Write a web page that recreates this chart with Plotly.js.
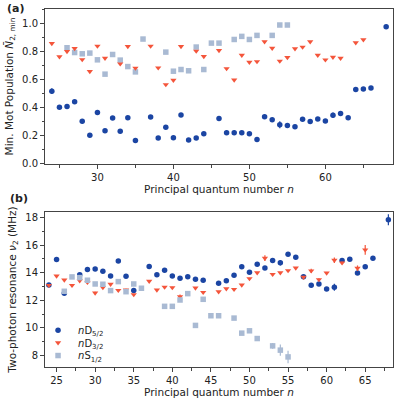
<!DOCTYPE html>
<html>
<head>
<meta charset="utf-8">
<script src="https://cdn.plot.ly/plotly-3.0.1.min.js"></script>
<style>
  html, body { margin: 0; padding: 0; background: #fff; }
  #chart { width: 399px; height: 399px; }
</style>
</head>
<body>
<div id="chart"></div>
<script>
// Panel (a): minimum Mot population vs n
const popD52N = [24, 25, 26, 27, 28, 29, 30, 31, 32, 33, 34, 35, 37, 38, 39, 40, 41, 42, 43, 44, 46, 47, 48, 49, 50, 51, 52, 53, 54, 55, 56, 57, 58, 59, 60, 61, 62, 63, 64, 65, 66, 68];
const popD52 = [0.515, 0.40, 0.405, 0.44, 0.30, 0.20, 0.362, 0.233, 0.324, 0.229, 0.326, 0.164, 0.331, 0.181, 0.257, 0.183, 0.345, 0.167, 0.181, 0.212, 0.321, 0.219, 0.219, 0.219, 0.212, 0.171, 0.333, 0.312, 0.276, 0.271, 0.262, 0.314, 0.298, 0.317, 0.302, 0.343, 0.355, 0.326, 0.526, 0.531, 0.538, 0.974];
const popD52Err = [0.02, 0.005, 0.005, 0.005, 0.015, 0.005, 0.005, 0.005, 0.005, 0.005, 0.005, 0.005, 0.005, 0.005, 0.012, 0.005, 0.005, 0.005, 0.005, 0.005, 0.005, 0.015, 0.015, 0.008, 0.005, 0.005, 0.005, 0.005, 0.025, 0.005, 0.005, 0.005, 0.01, 0.01, 0.005, 0.02, 0.01, 0.005, 0.005, 0.005, 0.005, 0.005];

const popD32N = [24, 25, 26, 27, 28, 29, 30, 31, 33, 34, 35, 37, 38, 39, 40, 41, 43, 44, 46, 47, 48, 49, 50, 51, 52, 53, 54, 55, 56, 57, 58, 59, 60, 61, 62, 64, 65];
const popD32 = [0.855, 0.760, 0.798, 0.819, 0.740, 0.655, 0.836, 0.750, 0.710, 0.833, 0.679, 0.836, 0.681, 0.562, 0.593, 0.833, 0.800, 0.762, 0.805, 0.676, 0.595, 0.771, 0.721, 0.726, 0.867, 0.821, 0.729, 0.755, 0.817, 0.829, 0.867, 0.771, 0.738, 0.757, 0.750, 0.860, 0.881];

const popS12N = [26, 27, 28, 29, 30, 31, 32, 33, 34, 35, 36, 39, 40, 41, 42, 43, 44, 45, 46, 48, 49, 50, 51, 53, 54, 55];
const popS12 = [0.824, 0.790, 0.781, 0.786, 0.738, 0.636, 0.776, 0.736, 0.690, 0.652, 0.886, 0.793, 0.657, 0.669, 0.660, 0.829, 0.669, 0.857, 0.857, 0.883, 0.905, 0.883, 0.912, 0.912, 0.986, 0.986];

// Panel (b): two-photon resonance vs n (MHz)
const resD52N = [24, 25, 26, 28, 29, 30, 31, 32, 33, 34, 35, 37, 38, 39, 40, 41, 42, 43, 44, 46, 47, 48, 49, 50, 51, 52, 53, 54, 55, 56, 57, 58, 59, 60, 61, 62, 63, 64, 65, 66, 68];
const resD52 = [13.11, 14.95, 12.50, 13.84, 14.22, 14.27, 14.10, 13.76, 14.85, 13.74, 12.70, 14.44, 13.84, 14.17, 13.76, 13.59, 13.71, 13.52, 13.45, 13.23, 13.42, 13.81, 14.42, 14.03, 14.61, 14.34, 14.88, 14.71, 15.34, 15.12, 13.71, 13.08, 13.18, 12.82, 12.94, 14.88, 14.97, 13.98, 14.42, 15.05, 17.83];
const resD52Err = [0.08, 0.05, 0.08, 0.1, 0.05, 0.05, 0.05, 0.05, 0.05, 0.05, 0.05, 0.05, 0.05, 0.12, 0.05, 0.05, 0.05, 0.05, 0.05, 0.05, 0.05, 0.05, 0.05, 0.05, 0.05, 0.05, 0.05, 0.2, 0.05, 0.05, 0.05, 0.05, 0.08, 0.05, 0.25, 0.08, 0.05, 0.05, 0.05, 0.05, 0.4];

const resD32N = [24, 25, 26, 27, 28, 29, 30, 31, 32, 33, 34, 35, 37, 38, 39, 40, 41, 43, 44, 46, 47, 48, 49, 50, 51, 52, 53, 54, 55, 56, 57, 58, 59, 60, 61, 62, 64, 65];
const resD32 = [13.08, 13.76, 13.47, 13.08, 13.42, 13.30, 12.53, 12.92, 13.16, 12.72, 12.75, 12.41, 13.38, 12.75, 12.96, 12.92, 12.26, 12.89, 12.58, 12.62, 12.84, 12.79, 13.11, 13.57, 14.00, 15.05, 13.88, 14.00, 14.15, 14.34, 13.67, 14.13, 13.50, 13.98, 14.90, 14.71, 14.32, 15.65];
const resD32Err = [0.08, 0.05, 0.05, 0.1, 0.08, 0.08, 0.08, 0.05, 0.08, 0.1, 0.08, 0.05, 0.08, 0.05, 0.05, 0.05, 0.15, 0.05, 0.05, 0.05, 0.05, 0.05, 0.05, 0.05, 0.05, 0.2, 0.05, 0.05, 0.05, 0.05, 0.1, 0.15, 0.1, 0.05, 0.2, 0.1, 0.2, 0.35];

const resS12N = [26, 27, 28, 29, 30, 31, 32, 33, 34, 35, 36, 39, 40, 41, 42, 43, 44, 45, 46, 48, 49, 50, 51, 53, 54, 55];
const resS12 = [12.65, 13.69, 13.64, 13.45, 13.18, 13.16, 12.70, 13.35, 12.62, 13.18, 12.87, 11.56, 11.56, 12.02, 12.48, 10.18, 12.07, 10.88, 10.88, 10.71, 9.62, 9.79, 9.23, 8.70, 8.39, 7.90];
const resS12Err = [0.1, 0.05, 0.1, 0.1, 0.1, 0.08, 0.1, 0.05, 0.08, 0.05, 0.1, 0.05, 0.05, 0.08, 0.05, 0.05, 0.05, 0.05, 0.05, 0.05, 0.1, 0.1, 0.15, 0.2, 0.4, 0.45];

const legendNames = ['<i>n</i>D<sub>5/2</sub>', '<i>n</i>D<sub>3/2</sub>', '<i>n</i>S<sub>1/2</sub>'];

const blue = '#1b45a3';
const red = '#f4553b';
const grey = '#a9bad3';

function series(x, y, err, color, symbol, name, xa, ya, legendId) {
    const trace = {
        x: x, y: y,
        type: 'scatter', mode: 'markers',
        name: name,
        showlegend: !!legendId,
        xaxis: xa, yaxis: ya,
        marker: {color: color, symbol: symbol, size: 5.5, line: {width: 0}}
    };
    if (legendId) trace.legend = legendId;
    if (err) trace.error_y = {type: 'data', array: err, visible: true, color: color, thickness: 1.2, width: 0};
    return trace;
}

const data = [
    series(popS12N, popS12, null, grey, 'square', legendNames[2], 'x', 'y', null),
    series(popD32N, popD32, null, red, 'triangle-down', legendNames[1], 'x', 'y', null),
    series(popD52N, popD52, popD52Err, blue, 'circle', legendNames[0], 'x', 'y', null),
    series(resD52N, resD52, resD52Err, blue, 'circle', legendNames[0], 'x2', 'y2', 'legend'),
    series(resD32N, resD32, resD32Err, red, 'triangle-down', legendNames[1], 'x2', 'y2', 'legend2'),
    series(resS12N, resS12, resS12Err, grey, 'square', legendNames[2], 'x2', 'y2', 'legend3')
];

const axisStyle = {
    showline: true, mirror: true, linecolor: '#444', linewidth: 1,
    ticks: 'outside', ticklen: 4, tickcolor: '#444',
    showgrid: false, zeroline: false,
    tickfont: {size: 10, color: '#222'}
};
const titleFont = {size: 10.5, color: '#222'};

// one legend box per entry so the rows can sit as close as in the original
function legendBox(y) {
    return {
        x: -0.02, y: y, xref: 'paper', yref: 'paper',
        xanchor: 'left', yanchor: 'middle',
        bgcolor: 'rgba(255,255,255,0)', borderwidth: 0,
        font: {size: 10, color: '#222'},
        itemwidth: 30
    };
}

const layout = {
    width: 399, height: 399,
    margin: {l: 45, r: 6, t: 9, b: 32},
    paper_bgcolor: '#fff', plot_bgcolor: '#fff',
    font: {family: 'DejaVu Sans, sans-serif', color: '#222'},
    xaxis: Object.assign({}, axisStyle, {
        domain: [0, 1], anchor: 'y', range: [23.1, 68.9],
        tickvals: [30, 40, 50, 60],
        minor: {dtick: 5, tick0: 25, ticks: 'outside', ticklen: 2.5, tickcolor: '#444'},
        title: {text: 'Principal quantum number <i>n</i>', font: titleFont, standoff: 3}
    }),
    yaxis: Object.assign({}, axisStyle, {
        domain: [0.567, 1], anchor: 'x', range: [-0.004, 1.1],
        tickvals: [0, 0.2, 0.4, 0.6, 0.8, 1.0], ticktext: ['0.0', '0.2', '0.4', '0.6', '0.8', '1.0'],
        minor: {dtick: 0.1, ticks: 'outside', ticklen: 2.5, tickcolor: '#444'},
        title: {text: 'Min. Mot Population <i>N̄</i><sub>2, min</sub>', font: titleFont, standoff: 6}
    }),
    xaxis2: Object.assign({}, axisStyle, {
        domain: [0, 1], anchor: 'y2', range: [23.5, 68.6],
        tickvals: [25, 30, 35, 40, 45, 50, 55, 60, 65],
        minor: {dtick: 2.5, tick0: 22.5, ticks: 'outside', ticklen: 2.5, tickcolor: '#444'},
        title: {text: 'Principal quantum number <i>n</i>', font: titleFont, standoff: 3}
    }),
    yaxis2: Object.assign({}, axisStyle, {
        domain: [0, 0.433], anchor: 'x2', range: [7.17, 18.39],
        tickvals: [8, 10, 12, 14, 16, 18],
        minor: {dtick: 1, ticks: 'outside', ticklen: 2.5, tickcolor: '#444'},
        title: {text: 'Two-photon resonance <i>ν</i><sub>2</sub> (MHz)', font: titleFont, standoff: 6}
    }),
    legend: legendBox(0.103),
    legend2: legendBox(0.068),
    legend3: legendBox(0.032),
    annotations: [
        {text: '<b>(a)</b>', x: 0, y: 1, xref: 'paper', yref: 'paper', xshift: -40, yshift: 1,
         xanchor: 'left', yanchor: 'middle', showarrow: false, font: {size: 11, color: '#222'}},
        {text: '<b>(b)</b>', x: 0, y: 0.433, xref: 'paper', yref: 'paper', xshift: -37, yshift: 13,
         xanchor: 'left', yanchor: 'middle', showarrow: false, font: {size: 11, color: '#222'}}
    ]
};

Plotly.newPlot('chart', data, layout, {displayModeBar: false, staticPlot: true});
</script>
</body>
</html>
